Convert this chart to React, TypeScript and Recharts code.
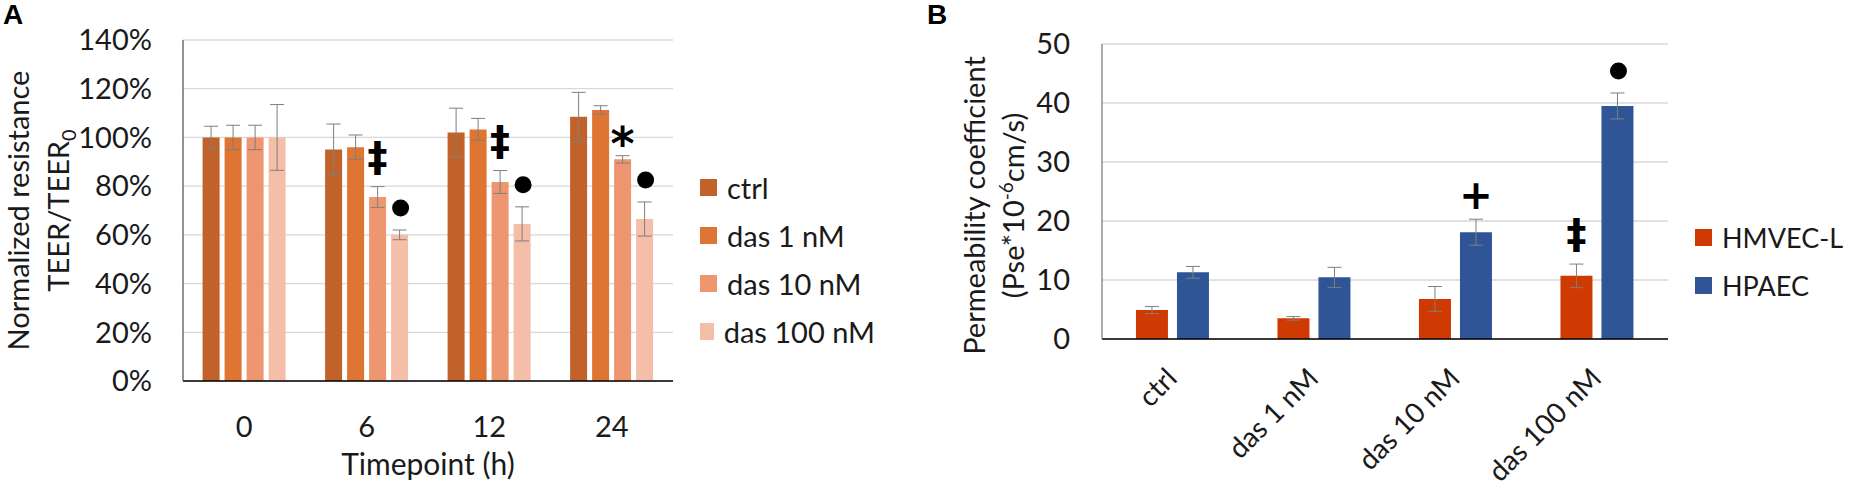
import React from 'react';
import { BarChart, Bar, XAxis, YAxis, CartesianGrid, ErrorBar, LabelList, Legend } from 'recharts';

// panel A: normalized TEER
const timepoints = ['0', '6', '12', '24'];
const ctrl = [100, 95, 102, 108.5];
const ctrlErr = [4.6, 10.5, 10, 10];
const das1 = [100, 96, 103.3, 111.3];
const das1Err = [5, 5, 4.5, 1.7];
const das10 = [100, 75.5, 81.7, 91];
const das10Err = [5, 4.3, 4.7, 1.5];
const das100 = [100, 60, 64.5, 66.5];
const das100Err = [13.5, 2, 7, 7];
const das10Marks = ['', '‡', '‡', '*'];
const das100Marks = ['', '●', '●', '●'];
const ticksA = [0, 20, 40, 60, 80, 100, 120, 140];

// panel B: permeability
const conditions = ['ctrl', 'das 1 nM', 'das 10 nM', 'das 100 nM'];
const hmvec = [4.9, 3.5, 6.8, 10.7];
const hmvecErr = [0.6, 0.3, 2.1, 2.0];
const hpaec = [11.3, 10.45, 18.1, 39.5];
const hpaecErr = [1.0, 1.7, 2.2, 2.2];
const hmvecMarks = ['', '', '', '‡'];
const hpaecMarks = ['', '', '+', '●'];
const ticksB = [0, 10, 20, 30, 40, 50];

const dataA = timepoints.map((t, i) => ({
  t,
  ctrl: ctrl[i], ctrlErr: ctrlErr[i],
  das1: das1[i], das1Err: das1Err[i],
  das10: das10[i], das10Err: das10Err[i], das10Mark: das10Marks[i],
  das100: das100[i], das100Err: das100Err[i], das100Mark: das100Marks[i],
}));

const dataB = conditions.map((c, i) => ({
  c,
  hmvec: hmvec[i], hmvecErr: hmvecErr[i], hmvecMark: hmvecMarks[i],
  hpaec: hpaec[i], hpaecErr: hpaecErr[i], hpaecMark: hpaecMarks[i],
}));

const FONT = 'Lato, "Open Sans", sans-serif';
const TXT = '#1a1a1a';
const ERR = '#7f7f7f';

const markStyle: Record<string, { size: number; dy: number }> = {
  '‡': { size: 40, dy: -16 },
  '*': { size: 46, dy: 4 },
  '+': { size: 40, dy: -10 },
};

const markLabel = (values: number[], errs: number[]) => (props: any) => {
  const mark = props.value;
  if (!mark) return null;
  const vb = props.viewBox || props;
  const { x, y, width, height } = vb;
  const i = props.index;
  const errTop = y - errs[i] * (height / values[i]);
  const cx = x + width / 2;
  if (mark === '●') return <circle cx={cx + 1} cy={errTop - 22} r={8.5} fill="#000" />;
  const s = markStyle[mark];
  return (
    <text x={cx} y={errTop + s.dy} textAnchor="middle" fontFamily="DejaVu Sans" fontWeight="bold" fontSize={s.size} fill="#000">
      {mark}
    </text>
  );
};

const legendContent = (size: number) => (props: any) => (
  <div style={{ fontFamily: FONT, fontSize: size, color: TXT }}>
    {(props.payload || []).map((p: any) => (
      <div key={p.value} style={{ display: 'flex', alignItems: 'center', height: 48, whiteSpace: 'nowrap' }}>
        <span style={{ display: 'inline-block', width: 17, height: 17, background: p.color, marginRight: 10 }} />
        <span>{p.value}</span>
      </div>
    ))}
  </div>
);

const yLabelA = (props: any) => {
  const vb = props.viewBox;
  const cy = vb.y + vb.height / 2;
  return (
    <g fontFamily={FONT} fontSize={29} fill={TXT}>
      <text x={29} y={cy} transform={`rotate(-90, 29, ${cy})`} textAnchor="middle">Normalized resistance</text>
      <text x={69} y={cy} transform={`rotate(-90, 69, ${cy})`} textAnchor="middle">
        TEER/TEER<tspan fontSize={20} dy={7}>0</tspan>
      </text>
    </g>
  );
};

const yLabelB = (props: any) => {
  const vb = props.viewBox;
  const cy = vb.y + vb.height / 2 + 14;
  const x1 = 985 - 880;
  const x2 = 1024 - 880;
  return (
    <g fontFamily={FONT} fontSize={29} fill={TXT}>
      <text x={x1} y={cy} transform={`rotate(-90, ${x1}, ${cy})`} textAnchor="middle">Permeability coefficient</text>
      <text x={x2} y={cy} transform={`rotate(-90, ${x2}, ${cy})`} textAnchor="middle">
        (Pse*10<tspan fontSize={19} dy={-11}>-6</tspan><tspan dy={11}>cm/s)</tspan>
      </text>
    </g>
  );
};

const xLabelA = (props: any) => {
  const vb = props.viewBox;
  return (
    <text x={vb.x + vb.width / 2} y={475} textAnchor="middle" fontFamily={FONT} fontSize={30} fill={TXT}>
      Timepoint (h)
    </text>
  );
};

const SlantTick = (props: any) => {
  const { x, y, payload } = props;
  const ax = x + 6;
  const ay = y - 4;
  return (
    <text x={ax} y={ay} transform={`rotate(-45, ${ax}, ${ay})`} textAnchor="end" fontFamily={FONT} fontSize={28} fill={TXT}>
      {payload.value}
    </text>
  );
};

const tickStyle = { fontFamily: FONT, fontSize: 29, fill: TXT };

const panelLabel: React.CSSProperties = {
  position: 'absolute',
  top: 0,
  fontFamily: '"Liberation Sans", Arial, sans-serif',
  fontWeight: 'bold',
  fontSize: 28,
  lineHeight: '30px',
  color: '#000',
};

export default function App() {
  return (
    <div style={{ position: 'absolute', left: 0, top: 0, width: 1850, height: 493, background: '#fff', overflow: 'hidden' }}>
      <div style={{ ...panelLabel, left: 3 }}>A</div>
      <div style={{ ...panelLabel, left: 927 }}>B</div>

      <div style={{ position: 'absolute', left: 0, top: 0 }}>
        <BarChart
          width={880}
          height={493}
          data={dataA}
          margin={{ top: 40, right: 207, bottom: 0, left: 0 }}
          barCategoryGap="16%"
          barGap={5}
        >
          <CartesianGrid vertical={false} stroke="#d9d9d9" strokeWidth={1.3} />
          <XAxis
            dataKey="t"
            height={112}
            axisLine={{ stroke: '#000', strokeWidth: 1.5 }}
            tickLine={false}
            tickSize={0}
            tickMargin={35}
            tick={tickStyle}
            label={{ content: xLabelA }}
          />
          <YAxis
            width={183}
            domain={[0, 140]}
            ticks={ticksA}
            tickFormatter={(v: number) => `${v}%`}
            axisLine={{ stroke: '#595959', strokeWidth: 1.3 }}
            tickLine={false}
            tickSize={0}
            tickMargin={31}
            tick={tickStyle}
            label={{ content: yLabelA }}
          />
          <Legend
            layout="vertical"
            align="center"
            verticalAlign="middle"
            content={legendContent(29)}
            wrapperStyle={{ left: 700, top: 163, width: 175 }}
          />
          <Bar dataKey="ctrl" name="ctrl" fill="#C0622A" isAnimationActive={false}>
            <ErrorBar dataKey="ctrlErr" width={7} stroke={ERR} strokeWidth={1} direction="y" />
          </Bar>
          <Bar dataKey="das1" name="das 1 nM" fill="#DE7532" isAnimationActive={false}>
            <ErrorBar dataKey="das1Err" width={7} stroke={ERR} strokeWidth={1} direction="y" />
          </Bar>
          <Bar dataKey="das10" name="das 10 nM" fill="#EE9670" isAnimationActive={false}>
            <ErrorBar dataKey="das10Err" width={7} stroke={ERR} strokeWidth={1} direction="y" />
            <LabelList dataKey="das10Mark" content={markLabel(das10, das10Err)} />
          </Bar>
          <Bar dataKey="das100" name="das 100 nM" fill="#F4BEA9" isAnimationActive={false}>
            <ErrorBar dataKey="das100Err" width={7} stroke={ERR} strokeWidth={1} direction="y" />
            <LabelList dataKey="das100Mark" content={markLabel(das100, das100Err)} />
          </Bar>
        </BarChart>
      </div>

      <div style={{ position: 'absolute', left: 880, top: 0 }}>
        <BarChart
          width={970}
          height={493}
          data={dataB}
          margin={{ top: 44, right: 182, bottom: 0, left: 0 }}
          barCategoryGap="24%"
          barGap={9}
        >
          <CartesianGrid vertical={false} stroke="#d9d9d9" strokeWidth={1.3} />
          <XAxis
            dataKey="c"
            height={154}
            axisLine={{ stroke: '#000', strokeWidth: 1.5 }}
            tickLine={false}
            tickSize={0}
            tickMargin={45}
            tick={<SlantTick />}
            interval={0}
          />
          <YAxis
            width={222}
            domain={[0, 50]}
            ticks={ticksB}
            axisLine={{ stroke: '#7f7f7f', strokeWidth: 1.3 }}
            tickLine={false}
            tickSize={0}
            tickMargin={32}
            tick={tickStyle}
            label={{ content: yLabelB }}
          />
          <Legend
            layout="vertical"
            align="center"
            verticalAlign="middle"
            content={legendContent(27)}
            wrapperStyle={{ left: 815, top: 213, width: 150 }}
          />
          <Bar dataKey="hmvec" name="HMVEC-L" fill="#CF3A02" isAnimationActive={false}>
            <ErrorBar dataKey="hmvecErr" width={7} stroke={ERR} strokeWidth={1} direction="y" />
            <LabelList dataKey="hmvecMark" content={markLabel(hmvec, hmvecErr)} />
          </Bar>
          <Bar dataKey="hpaec" name="HPAEC" fill="#2F5597" isAnimationActive={false}>
            <ErrorBar dataKey="hpaecErr" width={7} stroke={ERR} strokeWidth={1} direction="y" />
            <LabelList dataKey="hpaecMark" content={markLabel(hpaec, hpaecErr)} />
          </Bar>
        </BarChart>
      </div>
    </div>
  );
}
